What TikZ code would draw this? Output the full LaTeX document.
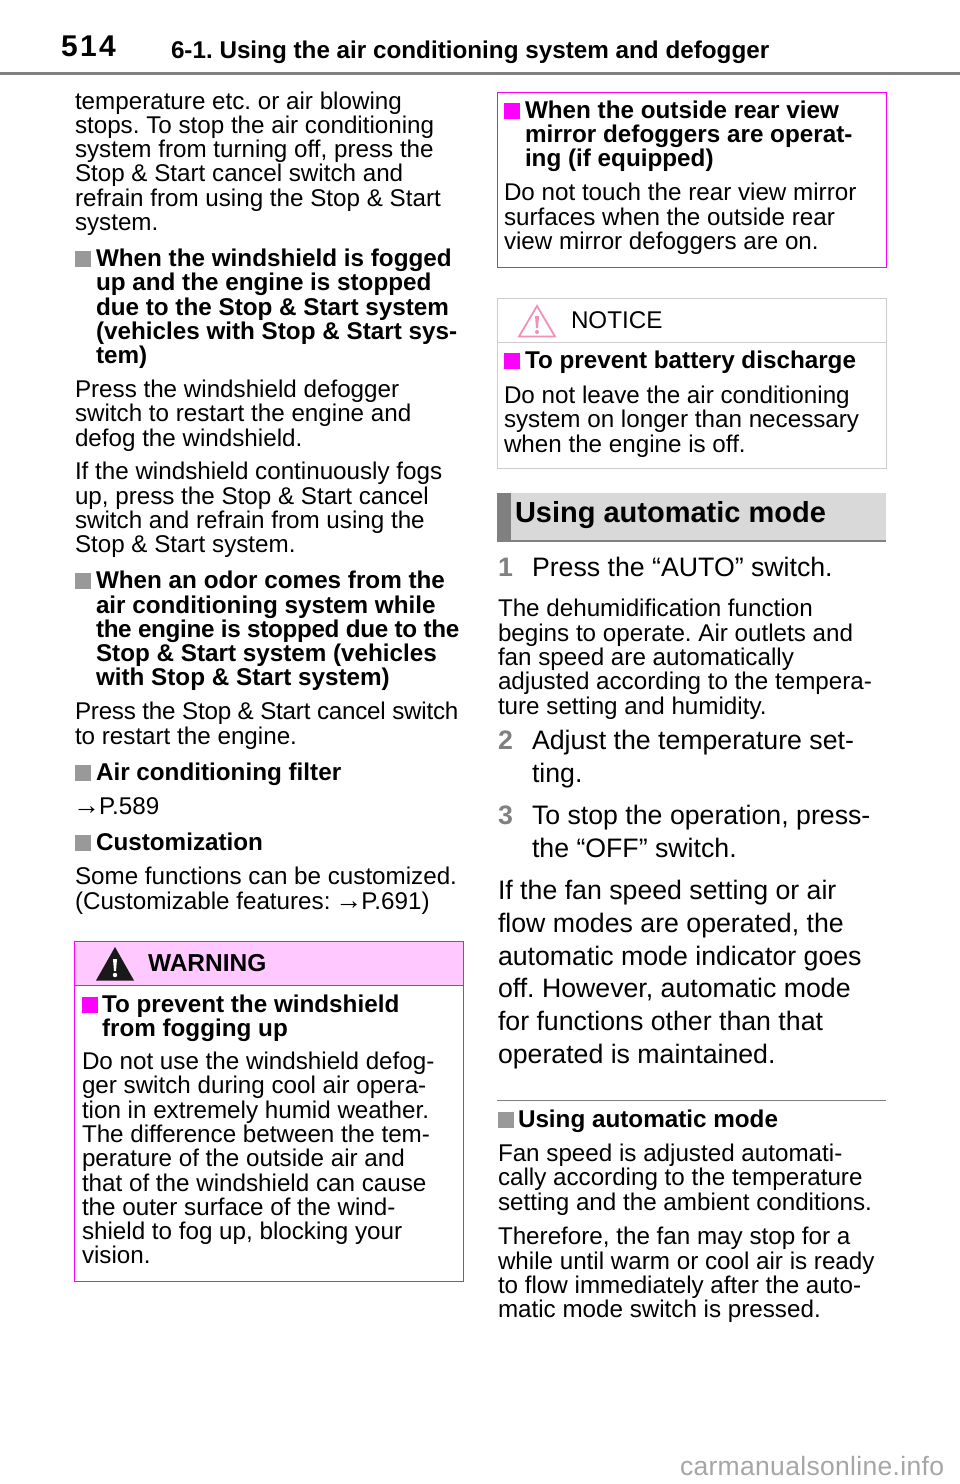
\documentclass[tikz,border=0pt]{standalone}
\usepackage{fontspec}
\setmainfont{Liberation Sans}
\frenchspacing
\newcounter{tn}
\definecolor{pinkhead}{HTML}{FFC8FF}
\definecolor{mag}{HTML}{FF00FF}
\definecolor{midgray}{HTML}{808080}
\definecolor{squaregray}{HTML}{999999}
\definecolor{softgray}{HTML}{CCCCCC}
\definecolor{headfill}{HTML}{D9D9D9}
\definecolor{notepink}{HTML}{F48FB8}
\tikzset{
  x=1pt,y=-1pt,
  tx/.style={anchor=base west,inner sep=0pt,outer sep=0pt,text=black,yshift=0.8pt},
  body/.style={tx,font=\fontsize{24.2}{29}\selectfont},
  bodybig/.style={tx,font=\fontsize{26.7}{32}\selectfont},
  hd/.style={tx,font=\fontsize{24.25}{29}\bfseries\selectfont},
  num/.style={tx,font=\fontsize{26.7}{32}\bfseries\selectfont,text=midgray},
  magbox/.style={draw=mag,line width=1pt},
  graybox/.style={draw=softgray,line width=1pt},
  marker/.style={draw=none,minimum width=16pt,minimum height=16pt,inner sep=0pt,anchor=south west},
}
\newcommand{\tl}[4][body]{\stepcounter{tn}\node[#1] (t\thetn) at (#2,#3) {#4};}
\newcommand{\gsq}[2]{\stepcounter{tn}\node[marker,fill=squaregray] (t\thetn) at (#1,#2) {};}
\newcommand{\msq}[2]{\stepcounter{tn}\node[marker,fill=mag] (t\thetn) at (#1,#2) {};}
\newcommand{\goto}{\kern-2pt\scalebox{1.12}{→}\kern-1pt}
\newcommand{\tight}[1]{\addfontfeature{LetterSpace=#1}}
\begin{document}
\begin{tikzpicture}
\useasboundingbox (0,0) rectangle (960,1484);
\fill[white] (0,0) rectangle (960,1484);
% header
\fill[midgray] (0,72) rectangle (960,75);
\tl[tx,font=\fontsize{30}{36}\bfseries\selectfont\addfontfeature{LetterSpace=8}]{61}{57}{514}
\tl[hd]{171}{59}{6-1. Using the air conditioning system and defogger}
% left column
\tl{75}{110}{temperature etc. or air blowing}
\tl{75}{134}{stops. To stop the air conditioning}
\tl{75}{158}{system from turning off, press the}
\tl{75}{182}{Stop \& Start cancel switch and}
\tl{75}{207}{refrain from using the Stop \& Start}
\tl{75}{231}{system.}
\gsq{75}{267}
\tl[hd]{96}{267}{When the windshield is fogged}
\tl[hd]{96}{291}{up and the engine is stopped}
\tl[hd]{96}{316}{due to the Stop \& Start system}
\tl[hd]{96}{340}{(vehicles with Stop \& Start sys-}
\tl[hd]{96}{364}{tem)}
\tl{75}{398}{Press the windshield defogger}
\tl{75}{422}{switch to restart the engine and}
\tl{75}{447}{defog the windshield.}
\tl{75}{480}{If the windshield continuously fogs}
\tl{75}{505}{up, press the Stop \& Start cancel}
\tl{75}{529}{switch and refrain from using the}
\tl{75}{553}{Stop \& Start system.}
\gsq{75}{589}
\tl[hd]{96}{589}{When an odor comes from the}
\tl[hd]{96}{614}{air conditioning system while}
\tl[hd]{96}{638}{\tight{-1.4}the engine is stopped due to the}
\tl[hd]{96}{662}{Stop \& Start system (vehicles}
\tl[hd]{96}{686}{with Stop \& Start system)}
\tl{75}{720}{\tight{-0.95}Press the Stop \& Start cancel switch}
\tl{75}{745}{to restart the engine.}
\gsq{75}{781}
\tl[hd]{96}{781}{Air conditioning filter}
\tl{75}{815}{\goto P.589}
\gsq{75}{851}
\tl[hd]{96}{851}{Customization}
\tl{75}{885}{Some functions can be customized.}
\tl{75}{910}{(Customizable features: \goto P.691)}
% warning box
\fill[pinkhead] (74,941) rectangle (463,985);
\draw[magbox] (74,941) rectangle (463,1281);
\draw[magbox] (74,985) -- (463,985);
\fill[black!90] (115,947) -- (134,980.5) -- (96,980.5) -- cycle;
\fill[white] (113,959) -- (117,959) -- (116,971) -- (114,971) -- cycle;
\fill[white] (115,975) circle (2.2);
\tl[hd,font=\fontsize{24.5}{30}\bfseries\selectfont]{148}{972}{WARNING}
\msq{82}{1013}
\tl[hd]{102}{1013}{To prevent the windshield}
\tl[hd]{102}{1037}{from fogging up}
\tl{82}{1070}{Do not use the windshield defog-}
\tl{82}{1094}{ger switch during cool air opera-}
\tl{82}{1119}{tion in extremely humid weather.}
\tl{82}{1143}{The difference between the tem-}
\tl{82}{1167}{perature of the outside air and}
\tl{82}{1192}{that of the windshield can cause}
\tl{82}{1216}{the outer surface of the wind-}
\tl{82}{1240}{shield to fog up, blocking your}
\tl{82}{1264}{vision.}
% right column: caution box
\draw[magbox] (497,92) rectangle (886,267);
\msq{504}{119}
\tl[hd]{525}{119}{When the outside rear view}
\tl[hd]{525}{143}{mirror defoggers are operat-}
\tl[hd]{525}{167}{ing (if equipped)}
\tl{504}{201}{Do not touch the rear view mirror}
\tl{504}{226}{surfaces when the outside rear}
\tl{504}{250}{view mirror defoggers are on.}
% notice box
\draw[graybox] (497,298) rectangle (886,468);
\draw[graybox] (497,342) -- (886,342);
\draw[notepink,line width=1.8pt,line join=miter] (537,306) -- (555,336.5) -- (519,336.5) -- cycle;
\fill[notepink] (535,316) -- (539,316) -- (538,328) -- (536,328) -- cycle;
\fill[notepink] (537,332) circle (2);
\tl{571}{329}{NOTICE}
\msq{504}{369}
\tl[hd]{525}{369}{To prevent battery discharge}
\tl{504}{404}{Do not leave the air conditioning}
\tl{504}{428}{system on longer than necessary}
\tl{504}{453}{when the engine is off.}
% section head
\fill[headfill] (497,493) rectangle (886,542);
\fill[midgray] (497,493) rectangle (511,542);
\fill[midgray] (497,540) rectangle (886,542);
\tl[hd,font=\fontsize{29}{34}\bfseries\selectfont]{515}{523}{Using automatic mode}
\tl[num]{498}{577}{1}
\tl[bodybig]{532}{577}{Press the “AUTO” switch.}
\tl{498}{617}{The dehumidification function}
\tl{498}{642}{begins to operate. Air outlets and}
\tl{498}{666}{fan speed are automatically}
\tl{498}{690}{adjusted according to the tempera-}
\tl{498}{715}{ture setting and humidity.}
\tl[num]{498}{750}{2}
\tl[bodybig]{532}{750}{Adjust the temperature set-}
\tl[bodybig]{532}{783}{ting.}
\tl[num]{498}{825}{3}
\tl[bodybig]{532}{825}{To stop the operation, press-}
\tl[bodybig]{532}{858}{the “OFF” switch.}
\tl[bodybig]{498}{900}{If the fan speed setting or air}
\tl[bodybig]{498}{933}{flow modes are operated, the}
\tl[bodybig]{498}{966}{automatic mode indicator goes}
\tl[bodybig]{498}{998}{off. However, automatic mode}
\tl[bodybig]{498}{1031}{for functions other than that}
\tl[bodybig]{498}{1064}{operated is maintained.}
\draw[midgray,line width=1pt] (497,1100.5) -- (886,1100.5);
\gsq{498}{1128}
\tl[hd]{518}{1128}{Using automatic mode}
\tl{498}{1162}{Fan speed is adjusted automati-}
\tl{498}{1186}{cally according to the temperature}
\tl{498}{1211}{setting and the ambient conditions.}
\tl{498}{1245}{Therefore, the fan may stop for a}
\tl{498}{1270}{while until warm or cool air is ready}
\tl{498}{1294}{to flow immediately after the auto-}
\tl{498}{1318}{matic mode switch is pressed.}
% watermark
\tl[tx,font=\fontsize{26.5}{32}\selectfont\addfontfeature{LetterSpace=1.2},text=black!35]{680}{1476}{carmanualsonline.info}
\end{tikzpicture}
\end{document}
